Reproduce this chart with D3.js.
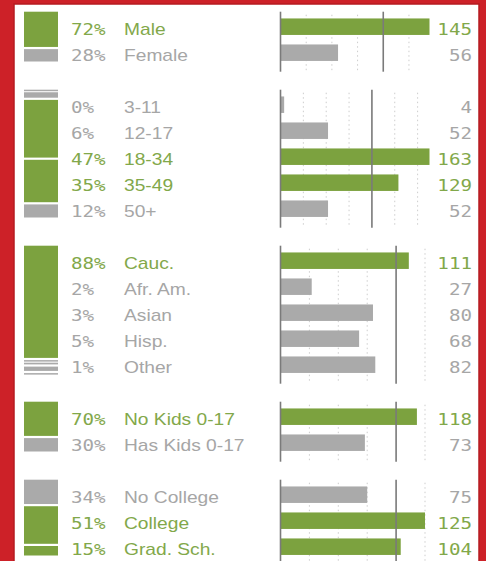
<!DOCTYPE html>
<html>
<head>
<meta charset="utf-8">
<script src="https://cdn.jsdelivr.net/npm/d3@7"></script>
<style>
  body { margin: 0; background: #fff; }
  svg { display: block; }
</style>
</head>
<body>
<svg id="chart" width="486" height="561"></svg>
<script>
// audience profile: share of audience (%) and index vs. average (100)
const genderLabels = ["Male", "Female"];
const genderPct = [72, 28];
const genderIndex = [145, 56];

const ageLabels = ["3-11", "12-17", "18-34", "35-49", "50+"];
const agePct = [0, 6, 47, 35, 12];
const ageIndex = [4, 52, 163, 129, 52];

const raceLabels = ["Cauc.", "Afr. Am.", "Asian", "Hisp.", "Other"];
const racePct = [88, 2, 3, 5, 1];
const raceIndex = [111, 27, 80, 68, 82];

const kidsLabels = ["No Kids 0-17", "Has Kids 0-17"];
const kidsPct = [70, 30];
const kidsIndex = [118, 73];

const eduLabels = ["No College", "College", "Grad. Sch."];
const eduPct = [34, 51, 15];
const eduIndex = [75, 125, 104];

const groups = [
  [genderLabels, genderPct, genderIndex],
  [ageLabels, agePct, ageIndex],
  [raceLabels, racePct, raceIndex],
  [kidsLabels, kidsPct, kidsIndex],
  [eduLabels, eduPct, eduIndex]
];

const green = "#7ca23f", gray = "#aaaaaa";
const greenText = "#82a84a", grayText = "#a6a6a6";
const svg = d3.select("#chart");

// red frame
svg.append("rect").attr("width", 486).attr("height", 561).attr("fill", "#cd2128");
svg.append("rect").attr("x", 14).attr("y", 4).attr("width", 465).attr("height", 570)
  .attr("fill", "#fff").attr("stroke", "#b51b21").attr("stroke-width", 1.5);

// one row per category plus an empty row between groups
let rowIdx = 0;
const rows = [];
const blocks = [];
groups.forEach(([labels, pct, idx], g) => {
  const start = rowIdx;
  labels.forEach((l, i) => rows.push({ label: l, pct: pct[i], index: idx[i], g, row: rowIdx++ }));
  blocks.push({ g, start, end: rowIdx - 1, pct, idx });
  rowIdx++;
});

const y = d3.scaleLinear().domain([0, 20]).range([26.7, 546.7]);
const step = y(1) - y(0);
const barH = 16.5;
const x0 = 280.5;

const textT = (x, yy) => `translate(${x},${yy}) scale(1.2,1)`;

blocks.forEach(b => {
  const top = y(b.start) - 15;
  const bottom = y(b.end) + 19;
  const n = b.end - b.start + 1;
  const stackH = n * step;

  // stacked share bar on the left
  const w = b.pct.map(p => Math.max(p, 2));
  const wsum = d3.sum(w);
  const sy = d3.scaleLinear().domain([0, wsum]).range([top, top + stackH]);
  let cum = 0;
  w.forEach((v, i) => {
    const y1 = sy(cum), y2 = sy(cum + v);
    cum += v;
    svg.append("rect")
      .attr("x", 24).attr("width", 34)
      .attr("y", y1)
      .attr("height", Math.max(y2 - y1 - 2.2, 1.5))
      .attr("fill", b.idx[i] > 100 ? green : gray);
  });

  // index scale for this group
  const dMax = Math.max(125, d3.max(b.idx));
  const x = d3.scaleLinear()
    .domain([0, dMax])
    .range([x0, x0 + (dMax > 125 ? 149 : 144.5)]);

  const ticks = d3.range(25, x.domain()[1] + 1, 25).filter(t => t !== 100);
  svg.selectAll(null).data(ticks).enter().append("line")
    .attr("x1", d => x(d)).attr("x2", d => x(d))
    .attr("y1", top + 3).attr("y2", bottom)
    .attr("stroke", "#cdcdcd").attr("stroke-width", 1)
    .attr("stroke-dasharray", "1.5,3");

  const gRows = rows.filter(r => r.g === b.g);
  svg.selectAll(null).data(gRows).enter().append("rect")
    .attr("x", x(0))
    .attr("y", d => y(d.row) - barH / 2)
    .attr("width", d => x(d.index) - x(0))
    .attr("height", barH)
    .attr("fill", d => d.index > 100 ? green : gray);

  [0, 100].forEach(v => {
    svg.append("line")
      .attr("x1", x(v)).attr("x2", x(v))
      .attr("y1", top).attr("y2", bottom)
      .attr("stroke", "#7a7a7a").attr("stroke-width", 1.6);
  });
});

// texts
const mono = "'DejaVu Sans Mono', monospace";
const sans = "'Liberation Sans', Arial, sans-serif";
const tc = d => d.index > 100 ? greenText : grayText;

svg.selectAll(null).data(rows).enter().append("text")
  .attr("transform", d => textT(71, y(d.row) + 8.5))
  .attr("font-family", mono).attr("font-size", 16)
  .attr("fill", tc)
  .text(d => d.pct + "%");

svg.selectAll(null).data(rows).enter().append("text")
  .attr("transform", d => textT(124, y(d.row) + 8.5))
  .attr("font-family", sans).attr("font-size", 16)
  .attr("fill", tc)
  .text(d => d.label);

svg.selectAll(null).data(rows).enter().append("text")
  .attr("transform", d => textT(472, y(d.row) + 8.5))
  .attr("text-anchor", "end")
  .attr("font-family", mono).attr("font-size", 16)
  .attr("fill", tc)
  .text(d => d.index);
</script>
</body>
</html>
